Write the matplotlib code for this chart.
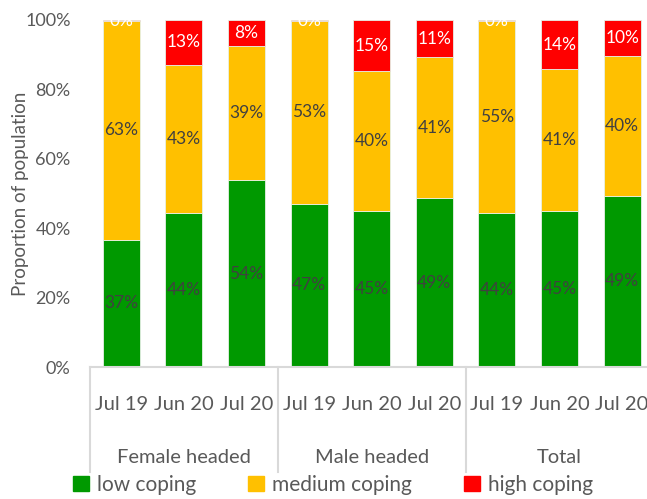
import matplotlib
matplotlib.use("Agg")
import matplotlib.pyplot as plt
from matplotlib.patches import Patch

plt.rcParams['font.family'] = ['Lato', 'DejaVu Sans']

# данные (доли населения, %)
periods = ['Jul 19', 'Jun 20', 'Jul 20'] * 3
groups = ['Female headed', 'Male headed', 'Total']
low = [36.6, 44.3, 53.8, 47.1, 45.0, 48.6, 44.3, 45.0, 49.4]
medium = [63.2, 42.8, 38.6, 52.6, 40.3, 40.6, 55.4, 40.8, 40.3]
high = [0.2, 12.9, 7.6, 0.3, 14.7, 10.8, 0.3, 14.2, 10.3]
series = ['low coping', 'medium coping', 'high coping']
colors = ['#009900', '#FFC000', '#FF0000']
text_colors = ['#404040', '#404040', 'white']

fig = plt.figure(figsize=(6.47, 4.99), dpi=100)
ax = fig.add_axes([90 / 647, 132 / 499, 563.4 / 647, 347 / 499])

x = list(range(len(periods)))
bottom = [0] * len(x)
for vals, name, col, tcol in zip([low, medium, high], series, colors, text_colors):
    bars = ax.bar(x, vals, 0.59, bottom=bottom, color=col, edgecolor='#E6F0E6',
                  linewidth=0.6, label=name)
    for b, v, b0 in zip(bars, vals, bottom):
        # нулевые подписи сидят на самом верху и обрезаются рамкой графика
        y = b0 + v / 2 if v >= 3 else 99.6
        ax.text(b.get_x() + b.get_width() / 2, y, f'{round(v)}%', ha='center',
                va='center', color=tcol, fontsize=12.5, clip_on=True)
    bottom = [a + v for a, v in zip(bottom, vals)]

ax.set_xlim(-0.5, 8.5)
ax.set_ylim(0, 100)
ax.set_yticks(range(0, 101, 20))
ax.set_yticklabels([f'{t}%' for t in range(0, 101, 20)])
ax.tick_params(axis='y', length=0, pad=14, labelsize=13, labelcolor='#595959')
ax.set_xticks(x)
ax.set_xticklabels(periods)
ax.tick_params(axis='x', length=0, pad=21, labelsize=14.5, labelcolor='#595959')
ax.set_ylabel('Proportion of population', fontsize=13.5, color='#595959')
ax.yaxis.set_label_coords(-0.108, 0.5)

for s in ['top', 'right', 'left']:
    ax.spines[s].set_visible(False)
ax.spines['bottom'].set_color('#D9D9D9')
ax.spines['bottom'].set_linewidth(1.5)

# подписи групп и разделители
trans = ax.get_xaxis_transform()
for i, g in enumerate(groups):
    ax.text(3 * i + 1, -0.262, g, transform=trans, ha='center', va='center',
            fontsize=14.5, color='#595959')
for sx in [-0.5, 2.5, 5.5, 8.5]:
    ax.plot([sx, sx], [0, -0.303], transform=trans, color='#D9D9D9', lw=1.5,
            clip_on=False)

handles = [Patch(color=c) for c in colors]
fig.legend(handles, series, loc='center', bbox_to_anchor=(0.515, 14 / 499), ncol=3,
           frameon=False, fontsize=15, handlelength=0.75, handleheight=0.75,
           handletextpad=0.4, columnspacing=2.5, labelcolor='#595959')

fig.savefig('out.png', dpi=100)
